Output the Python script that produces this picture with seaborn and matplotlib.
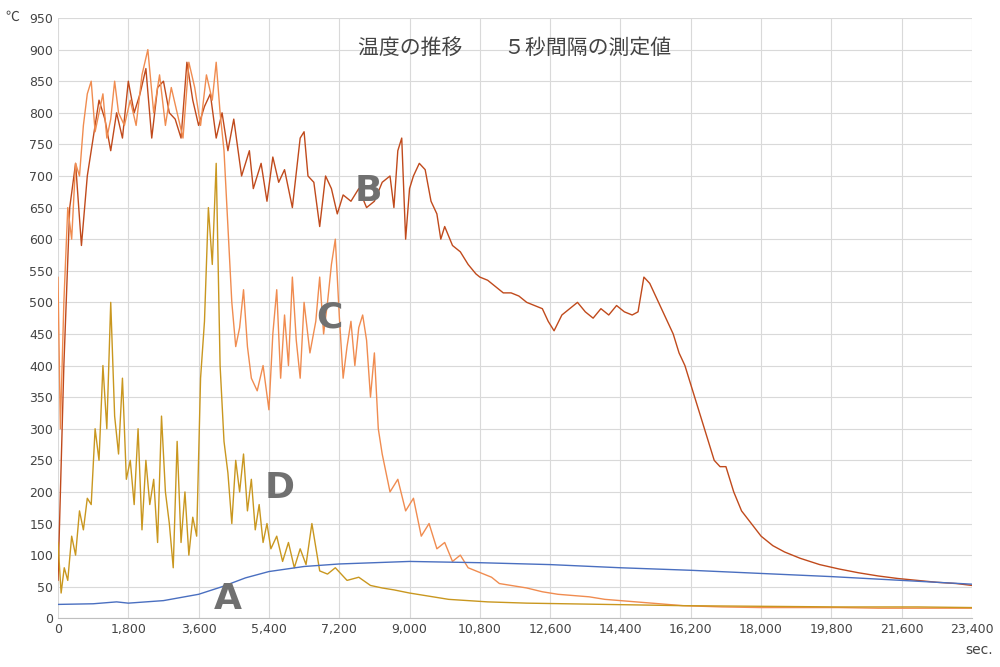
import matplotlib
matplotlib.use("Agg")
import matplotlib.pyplot as plt
import seaborn as sns
import pandas as pd

# values (seconds, degC)
t_b = [0, 150, 300, 450, 600, 750, 900, 1050, 1200, 1350, 1500, 1650, 1800, 1950, 2100, 2250, 2400, 2550, 2700,
       2850, 3000, 3150, 3300, 3450, 3600, 3750, 3900, 4050, 4200, 4350, 4500, 4700, 4900, 5000, 5200, 5350, 5500,
       5650, 5800, 6000, 6200, 6300, 6400, 6550, 6700, 6850, 7000, 7150, 7300, 7500, 7700, 7900, 8100, 8300, 8500,
       8600, 8700, 8800, 8900, 9000, 9100, 9250, 9400, 9550, 9700, 9800, 9900, 10100, 10300, 10500, 10700, 10800,
       11000, 11200, 11400, 11600, 11800, 12000, 12200, 12400, 12550, 12700, 12900, 13100, 13300, 13500, 13700,
       13900, 14100, 14300, 14500, 14700, 14850, 15000, 15150, 15300, 15450, 15600, 15750, 15900, 16050, 16200,
       16350, 16500, 16650, 16800, 16950, 17100, 17300, 17500, 17750, 18000, 18300, 18600, 19000, 19500, 20000,
       20500, 21000, 21500, 22000, 22500, 23000, 23400]
temp_b = [60, 400, 650, 720, 590, 700, 760, 820, 790, 740, 800, 760, 850, 800, 830, 870, 760, 840, 850,
          800, 790, 760, 880, 820, 780, 810, 830, 760, 800, 740, 790, 700, 740, 680, 720, 660, 730,
          690, 710, 650, 760, 770, 700, 690, 620, 700, 680, 640, 670, 660, 680, 650, 660, 690, 700,
          650, 740, 760, 600, 680, 700, 720, 710, 660, 640, 600, 620, 590, 580, 560, 545, 540,
          535, 525, 515, 515, 510, 500, 495, 490, 470, 455, 480, 490, 500, 485, 475,
          490, 480, 495, 485, 480, 485, 540, 530, 510, 490, 470, 450, 420, 400, 370,
          340, 310, 280, 250, 240, 240, 200, 170, 150, 130, 115, 105, 95, 85, 78,
          72, 67, 63, 60, 57, 55, 52]

t_c = [0, 60, 150, 250, 350, 450, 550, 650, 750, 850, 950, 1050, 1150, 1250, 1350, 1450, 1550, 1700, 1850,
       2000, 2150, 2300, 2450, 2600, 2750, 2900, 3050, 3200, 3350, 3500, 3650, 3800, 3950, 4050, 4150, 4250,
       4350, 4450, 4550, 4650, 4750, 4850, 4950, 5100, 5250, 5400, 5500, 5600, 5700, 5800, 5900, 6000, 6100,
       6200, 6300, 6450, 6600, 6700, 6800, 6900, 7000, 7100, 7200, 7300, 7400, 7500, 7600, 7700, 7800, 7900,
       8000, 8100, 8200, 8300, 8400, 8500, 8700, 8900, 9100, 9300, 9500, 9700, 9900, 10100, 10300, 10500,
       10700, 10900, 11100, 11300, 11600, 12000, 12400, 12800, 13200, 13600, 14000, 14400, 14800, 15200,
       15600, 16000, 16500, 17000, 18000, 19000, 20000, 21000, 22000, 23400]
temp_c = [540, 300, 500, 650, 600, 720, 700, 780, 830, 850, 770, 800, 830, 760, 790, 850, 800, 780, 820,
          780, 860, 900, 800, 860, 780, 840, 800, 760, 880, 840, 780, 860, 820, 880, 800, 740,
          620, 500, 430, 460, 520, 430, 380, 360, 400, 330, 450, 520, 380, 480, 400, 540, 440,
          380, 500, 420, 470, 540, 450, 500, 560, 600, 480, 380, 430, 470, 400, 460, 480, 440,
          350, 420, 300, 260, 230, 200, 220, 170, 190, 130, 150, 110, 120, 90, 100, 80,
          75, 70, 65, 55, 52, 48, 42, 38, 36, 34, 30, 28, 26, 24,
          22, 20, 19, 18, 17, 17, 17, 16, 16, 16]

t_d = [0, 80, 160, 250, 350, 450, 550, 650, 750, 850, 950, 1050, 1150, 1250, 1350, 1450, 1550, 1650, 1750,
       1850, 1950, 2050, 2150, 2250, 2350, 2450, 2550, 2650, 2750, 2850, 2950, 3050, 3150, 3250, 3350, 3450,
       3550, 3650, 3750, 3850, 3950, 4050, 4150, 4250, 4350, 4450, 4550, 4650, 4750, 4850, 4950, 5050, 5150,
       5250, 5350, 5450, 5600, 5750, 5900, 6050, 6200, 6350, 6500, 6700, 6900, 7100, 7400, 7700, 8000, 8300,
       8600, 9000, 9500, 10000, 11000, 12000, 13000, 14000, 15000, 16000, 18000, 20000, 22000, 23400]
temp_d = [120, 40, 80, 60, 130, 100, 170, 140, 190, 180, 300, 250, 400, 300, 500, 320, 260, 380, 220,
          250, 180, 300, 140, 250, 180, 220, 120, 320, 200, 150, 80, 280, 120, 200, 100, 160,
          130, 380, 470, 650, 560, 720, 400, 280, 230, 150, 250, 200, 260, 170, 220, 140, 180,
          120, 150, 110, 130, 90, 120, 80, 110, 85, 150, 75, 70, 80, 60, 65, 52, 48,
          45, 40, 35, 30, 26, 24, 23, 22, 21, 20, 19, 18, 18, 17]

t_a = [0, 900, 1500, 1800, 2700, 3600, 4200, 4800, 5400, 6300, 7200, 8100, 9000, 10800, 12600, 14400, 16200,
       18000, 19800, 21600, 23400]
temp_a = [22, 23, 26, 24, 28, 38, 50, 64, 74, 82, 86, 88, 90, 88, 85, 80, 76, 71, 66, 60, 54]

series = [("B", t_b, temp_b, "#C04A1C"), ("C", t_c, temp_c, "#F08C50"),
          ("D", t_d, temp_d, "#C9971F"), ("A", t_a, temp_a, "#4A6FC0")]

sns.set_style("white")
fig, ax = plt.subplots(figsize=(10, 6.67), dpi=100)
fig.subplots_adjust(left=0.058, right=0.972, top=0.973, bottom=0.073)

for name, t, v, col in series:
    df = pd.DataFrame({"t": t, "v": v})
    sns.lineplot(data=df, x="t", y="v", color=col, linewidth=1.0, ax=ax)

ax.set_xlim(0, 23400)
ax.set_ylim(0, 950)
ax.set_xticks(range(0, 23401, 1800))
ax.set_xticklabels([f"{x:,}" for x in range(0, 23401, 1800)], fontsize=9, color="#444")
ax.set_yticks(range(0, 951, 50))
ax.tick_params(axis="y", labelsize=9, labelcolor="#444", length=0)
ax.tick_params(axis="x", length=0)
ax.grid(True, color="#d9d9d9", linewidth=0.8)
for s in ["top", "right", "left"]:
    ax.spines[s].set_visible(False)
ax.spines["bottom"].set_color("#bfbfbf")
ax.set_xlabel("")
ax.set_ylabel("")

ax.text(0.5, 0.94, "温度の推移　　５秒間隔の測定値", transform=ax.transAxes, ha="center",
        fontsize=15, color="#444", family="Noto Sans CJK JP")
fig.text(0.005, 0.985, "℃", fontsize=10, color="#444", va="top", family="Noto Sans CJK JP")
fig.text(0.965, 0.02, "sec.", fontsize=10, color="#444")

for lbl, x, y in [("A", 4000, 15), ("B", 7600, 660), ("C", 6600, 460), ("D", 5300, 190)]:
    ax.text(x, y, lbl, fontsize=26, fontweight="bold", color="#707070")

fig.savefig("out.png", dpi=100)
